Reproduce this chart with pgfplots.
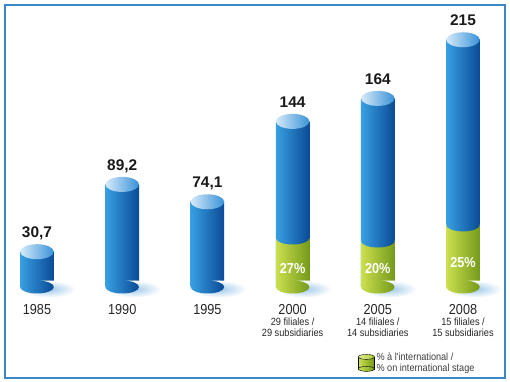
\documentclass[border=0pt]{standalone}
\usepackage{pgfplots}
\pgfplotsset{compat=1.18}
\usepackage{pgfplotstable}
\usepackage{fontspec}
\setmainfont{Liberation Sans}
\newfontfamily\cond{Liberation Sans}[FakeStretch=0.88]
\usetikzlibrary{shapes.geometric}
\definecolor{frameblue}{RGB}{58,134,200}
\definecolor{barL}{RGB}{56,160,226}
\definecolor{barM}{RGB}{24,126,210}
\definecolor{barR}{RGB}{10,74,150}
\definecolor{capL}{RGB}{214,234,249}
\definecolor{capR}{RGB}{56,146,216}
\definecolor{grL}{RGB}{204,224,80}
\definecolor{grM}{RGB}{170,200,50}
\definecolor{grR}{RGB}{116,154,26}
\definecolor{shadowc}{RGB}{160,202,234}
\definecolor{textgrey}{RGB}{60,60,60}

\pgfplotstableread{
x total label
0 30.7 {30,7}
1 89.2 {89,2}
2 74.1 {74,1}
3 144 144
4 164 164
5 215 215
}\totals
\pgfplotstableread{
x mid label
3 15.7 {27\%}
4 15.7 {20\%}
5 21.7 {25\%}
}\pcts

\pgfplotsset{
  bluebar/.style={forget plot, ybar, bar shift=0pt, bar width=0.395, draw=none, left color=barL, middle color=barM, right color=barR},
  greenbar/.style={forget plot, ybar, bar shift=0pt, bar width=0.395, draw=none, left color=grL, middle color=grM, right color=grR},
  ellnode/.style={forget plot, draw=none, mark=none, nodes near coords={},
    every node near coord/.append style={ellipse, anchor=center, minimum width=33.6bp, minimum height=#1, inner sep=0pt}},
}

\begin{document}
\begin{tikzpicture}
\begin{axis}[
  scale only axis, width=500bp, height=373bp,
  xmin=-0.3756, xmax=5.493, ymin=-79.13, ymax=245.2,
  axis line style={draw=frameblue, line width=1.6bp},
  ytick=\empty,
  xtick={0,1,2,3,4,5},
  xtick style={draw=none},
  xticklabels={{{\yr 1985}},{{\yr 1990}},{{\yr 1995}},
    {{\yr 2000}\\29 filiales /\\29 subsidiaries},
    {{\yr 2005}\\14 filiales /\\14 subsidiaries},
    {{\yr 2008}\\15 filiales /\\15 subsidiaries}},
  xticklabel style={font=\cond\fontsize{10.5}{11.3}\selectfont, align=center, anchor=north, inner sep=0pt, yshift=74bp, text=black!85},
  clip=false,
  legend style={at={(rel axis cs:0.706,0.008)}, anchor=south west, draw=none, fill=none,
     font=\cond\fontsize{10.4}{10.8}\selectfont, text=textgrey, inner sep=0pt, cells={align=left}},
  legend cell align=left,
]
\def\yr{\fontsize{14.5}{15}\selectfont}
% shadows
\addplot[forget plot, draw=none, mark=none, nodes near coords={},
  every node near coord/.append style={ellipse, anchor=center, minimum width=54bp, minimum height=17bp, inner sep=0pt,
   shading=radial, inner color=shadowc, outer color=white, xshift=12bp, yshift=-2bp}]
  coordinates {(0,0) (1,0) (2,0) (3,0) (4,0) (5,0)};
% bottom ellipses
\addplot[ellnode=13bp, every node near coord/.append style={left color=barL, middle color=barM, right color=barR}] coordinates {(0,0)};
\addplot[ellnode=13bp, every node near coord/.append style={left color=barL, middle color=barM, right color=barR}] coordinates {(1,0)};
\addplot[ellnode=13bp, every node near coord/.append style={left color=barL, middle color=barM, right color=barR}] coordinates {(2,0)};
\addplot[ellnode=13bp, every node near coord/.append style={left color=grL, middle color=grM, right color=grR}] coordinates {(3,0)};
\addplot[ellnode=13bp, every node near coord/.append style={left color=grL, middle color=grM, right color=grR}] coordinates {(4,0)};
\addplot[ellnode=13bp, every node near coord/.append style={left color=grL, middle color=grM, right color=grR}] coordinates {(5,0)};
% blue bodies
\addplot[bluebar] coordinates {(0,30.7)};
\addplot[bluebar] coordinates {(1,89.2)};
\addplot[bluebar] coordinates {(2,74.1)};
\addplot[bluebar] coordinates {(3,144)};
\addplot[bluebar] coordinates {(4,164)};
\addplot[bluebar] coordinates {(5,215)};
% green bodies
\addplot[greenbar] coordinates {(3,42.6)};
\addplot[greenbar] coordinates {(4,40)};
\addplot[greenbar] coordinates {(5,54)};
% blue bottom over green
\addplot[ellnode=13bp, every node near coord/.append style={left color=barL, middle color=barM, right color=barR}] coordinates {(3,42.6)};
\addplot[ellnode=13bp, every node near coord/.append style={left color=barL, middle color=barM, right color=barR}] coordinates {(4,40)};
\addplot[ellnode=13bp, every node near coord/.append style={left color=barL, middle color=barM, right color=barR}] coordinates {(5,54)};
% caps
\addplot[ellnode=15bp, every node near coord/.append style={left color=capL, right color=capR}]
  table[x=x, y=total] {\totals};
% value labels
\addplot[forget plot, draw=none, mark=none, nodes near coords, point meta=explicit symbolic,
  every node near coord/.append style={anchor=base, yshift=14bp, inner sep=0pt, font=\bfseries\fontsize{15.5}{16}\selectfont, text=black!90}]
  table[x=x, y=total, meta=label] {\totals};
% percent labels
\addplot[forget plot, draw=none, mark=none, nodes near coords, point meta=explicit symbolic,
  every node near coord/.append style={anchor=center, inner sep=0pt, font=\cond\bfseries\fontsize{14.5}{15}\selectfont, text=white}]
  table[x=x, y=mid, meta=label] {\pcts};
\addlegendimage{legend image code/.code={
  \shade[left color=grL, middle color=grM, right color=grR] (0bp,-6bp) rectangle (16bp,6bp);
  \shade[left color=grL, middle color=grM, right color=grR] (8bp,-6bp) ellipse [x radius=8bp, y radius=2.5bp];
  \shade[left color=grL!60!white, right color=grM] (8bp,6bp) ellipse [x radius=8bp, y radius=2.5bp];
}}
\addlegendentry{\% à l'international /\\\% on international stage}
\end{axis}
\path (current axis.south west) ++(-5bp,-4bp) (current axis.north east) ++(5bp,5bp);
\end{tikzpicture}
\end{document}
